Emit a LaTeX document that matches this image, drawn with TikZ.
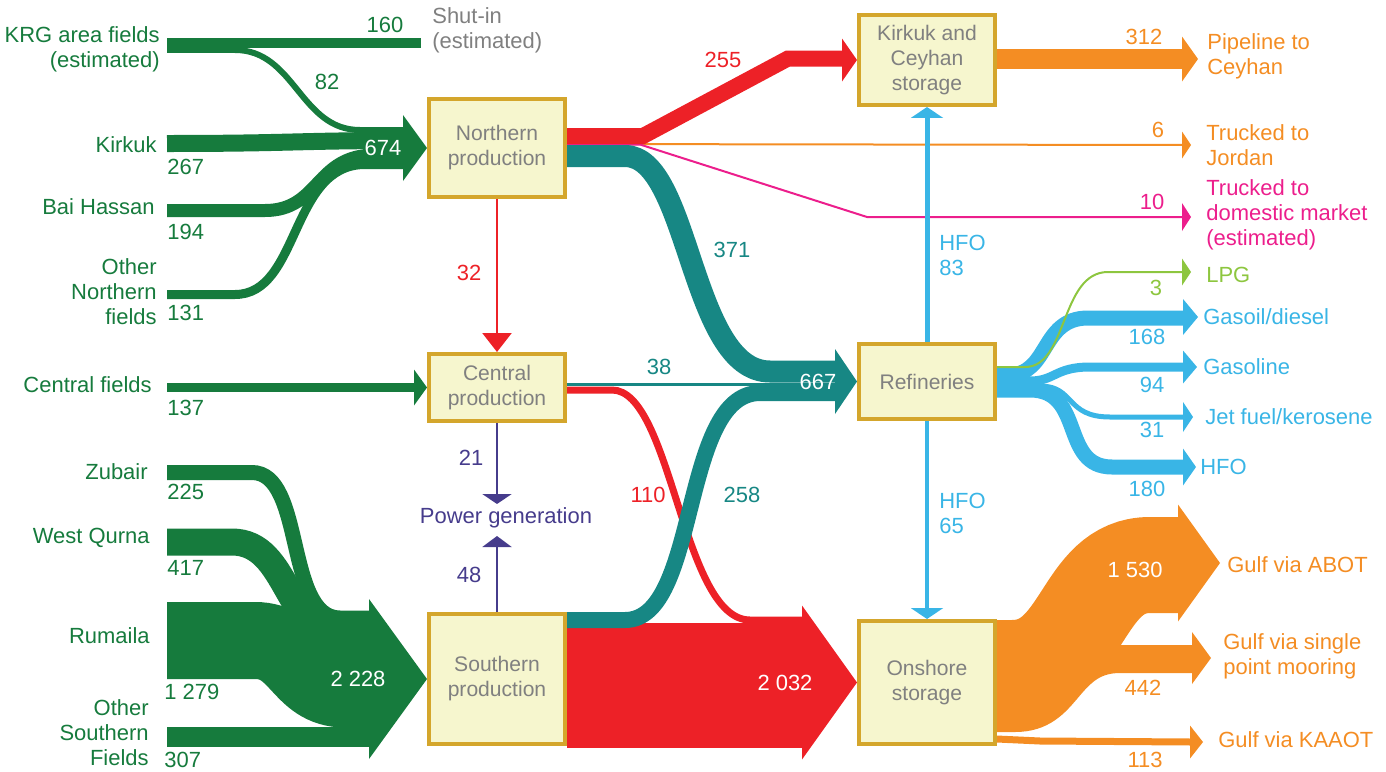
\documentclass[tikz,border=0pt]{standalone}
\usepackage{fontspec}
\setmainfont{Liberation Sans}
\usepackage{tikz}
\usetikzlibrary{arrows.meta,backgrounds}

\definecolor{oilgreen}{RGB}{22,123,61}
\definecolor{oilred}{RGB}{237,33,39}
\definecolor{oilteal}{RGB}{23,135,132}
\definecolor{oilorange}{RGB}{244,141,35}
\definecolor{oilblue}{RGB}{57,181,230}
\definecolor{oilpink}{RGB}{236,30,140}
\definecolor{oillime}{RGB}{141,198,63}
\definecolor{oilpurple}{RGB}{70,60,140}
\definecolor{boxfill}{RGB}{246,246,206}
\definecolor{boxline}{RGB}{212,166,44}
\definecolor{boxtext}{RGB}{128,128,128}

\tikzset{
  bandw/.style={line width=#1*0.02cm},
  lbl/.style={inner sep=0pt, font=\fontsize{12.5}{14.2}\selectfont},
  box/.style={draw=boxline, fill=boxfill, line width=2pt, minimum width=2.73cm,
    inner sep=0pt, align=center, text=boxtext, font=\fontsize{12}{14.2}\selectfont},
}
% filled arrow head pointing right: colour, tip, half height, length
\newcommand{\headR}[4]{\fill[#1] (#2) -- ++(-#4,-#3) -- ++(0,2*#3) -- cycle;}

\begin{document}
\begin{tikzpicture}[x=0.02cm, y=-0.02cm]
\useasboundingbox (0,0) rectangle (1386,771);

% boxes
\node[box, minimum height=1.97cm] (north) at (497,148) {Northern\\production};
\node[box, minimum height=1.35cm] (central) at (497,387.5) {Central\\production};
\node[box, minimum height=2.61cm] (south) at (497,679) {Southern\\production};
\node[box, minimum height=1.81cm] (ceyhan) at (927,60) {Kirkuk and\\Ceyhan\\storage};
\node[box, minimum height=1.51cm] (refin) at (927,381.5) {Refineries};
\node[box, minimum height=2.47cm] (onshore) at (927,682.5) {Onshore\\storage};
\node[lbl, text=oilpurple] (power) at (506,518) {Power generation};

% free ends of the bands
\coordinate (krgS) at (167,45.4);
\coordinate (shutE) at (421,43);
\coordinate (kirkukS) at (167,143.5);
\coordinate (baiS) at (167,210.5);
\coordinate (othernS) at (167,294.5);
\coordinate (centfS) at (167,387.5);
\coordinate (zubairS) at (167,472.5);
\coordinate (qurnaS) at (167,542);
\coordinate (rumailaS) at (167,640.5);
\coordinate (othersS) at (167,737);
\coordinate (pipeT) at (1198,59);
\coordinate (jordanT) at (1191,145);
\coordinate (domT) at (1191,217);
\coordinate (lpgT) at (1191,272);
\coordinate (gasoilT) at (1198,317);
\coordinate (gasolT) at (1197,367);
\coordinate (jetT) at (1193,417);
\coordinate (hfoT) at (1196,467);
\coordinate (abotT) at (1220,563);
\coordinate (spmT) at (1211,658);
\coordinate (kaaotT) at (1203,742);
\coordinate (pgT) at (497,504);
\coordinate (pgB) at (497,536);

\begin{scope}[on background layer]
% northern fields
\draw[oilgreen, bandw=15] (krgS) -- (245,45.4);
\draw[oilgreen, bandw=10] (245,43) -- (shutE); % shut-in
\draw[oilgreen, bandw=6] (235,50) .. controls (295,50) and (300,130) .. (360,130) -- (404,130); % 82
\draw[oilgreen, bandw=17] (kirkukS) .. controls (290,143.5) and (300,140.5) .. (404,140.5);
\draw[oilgreen, bandw=13] (baiS) -- (265,210.5) .. controls (320,210.5) and (315,155) .. (375,155) -- (404,155);
\draw[oilgreen, bandw=9] (othernS) -- (235,294.5) .. controls (300,294.5) and (290,164.5) .. (365,164.5) -- (404,164.5);
\fill[oilgreen] (385,127) rectangle (404,169);
\headR{oilgreen}{north.west}{33}{24}
% central fields
\draw[oilgreen, bandw=9] (centfS) -- (415,387.5);
\headR{oilgreen}{central.west}{18}{13}
% southern fields
\draw[oilgreen, bandw=15] (zubairS) -- (252,472.5) .. controls (305,472.5) and (285,618) .. (340,618) -- (370,618);
\draw[oilgreen, bandw=27] (qurnaS) -- (232,542) .. controls (290,542) and (285,637) .. (345,637) -- (370,637);
\draw[oilgreen, bandw=77] (rumailaS) -- (255,640.5) .. controls (300,640.5) and (300,689) .. (345,689) -- (370,689);
\draw[oilgreen, bandw=20] (othersS) -- (370,737);
\fill[oilgreen] (340,611) rectangle (370,747);
\headR{oilgreen}{south.west}{80}{58}

% northern production out
\draw[oilorange, bandw=2] (north.east |- 0,144) -- (1184,145);
\headR{oilorange}{jordanT}{13.5}{9}
\draw[oilpink, bandw=2] (north.east |- 0,144.5) -- (640,144.5) -- (867,217) -- (1184,217);
\headR{oilpink}{domT}{14}{9}
\draw[oilred, bandw=16, line join=miter] (north.east |- 0,136) -- (643,136) -- (788,58.5) -- (843,58.5); % 255
\headR{oilred}{ceyhan.west}{21.5}{15}
\draw[oilteal, bandw=22] (north.east |- 0,156) -- (625,156) .. controls (690,156) and (690,371.5) .. (770,371.5) -- (836,371.5); % 371
% central production out
\draw[oilteal, bandw=3] (central.east |- 0,384) -- (836,384); % 38
\draw[oilred, bandw=7] (central.east |- 0,390) -- (612,390) .. controls (672,390) and (682,620) .. (750,620) -- (803,620); % 110
% southern production out
\draw[oilred, bandw=125] (south.east |- 0,685) -- (803,685); % 2032
\draw[oilteal, bandw=16] (south.east |- 0,620) -- (625,620) .. controls (700,620) and (680,393) .. (760,393) -- (836,393); % 258
\headR{oilteal}{refin.west}{32.5}{22}
\headR{oilred}{onshore.west}{77}{55}

% storage and refineries out
\draw[oilorange, bandw=20] (ceyhan.east |- 0,59) -- (1184,59);
\headR{oilorange}{pipeT}{22.5}{16}
\draw[oilblue, bandw=15] (refin.east |- 0,375) -- (1008,375) .. controls (1050,375) and (1040,318) .. (1088,318) -- (1185,318);
\draw[oilblue, bandw=9] (refin.east |- 0,381) -- (1030,381) .. controls (1055,381) and (1055,367) .. (1090,367) -- (1185,367);
\draw[oilblue, bandw=5] (refin.east |- 0,386) -- (1040,386) .. controls (1075,386) and (1065,417) .. (1110,417) -- (1185,417);
\draw[oilblue, bandw=15] (refin.east |- 0,390) -- (1030,390) .. controls (1085,390) and (1060,467) .. (1112,467) -- (1185,467);
\draw[oillime, bandw=2] (refin.east |- 0,367) -- (1025,367) .. controls (1068,367) and (1060,272) .. (1108,272) -- (1184,272);
\headR{oillime}{lpgT}{13.5}{9}
\headR{oilblue}{gasoilT}{18}{15}
\headR{oilblue}{gasolT}{16.5}{14}
\headR{oilblue}{jetT}{15}{10}
\headR{oilblue}{hfoT}{18.5}{13}
\draw[oilorange, bandw=96] (onshore.east |- 0,668) -- (1012,668) .. controls (1085,668) and (1080,565) .. (1150,565) -- (1179,565);
\draw[oilorange, bandw=28] (onshore.east |- 0,718) -- (1015,718) .. controls (1070,718) and (1065,659) .. (1120,659) -- (1193,659);
\draw[oilorange, bandw=7] (onshore.east |- 0,739) -- (1040,741) -- (1191,742);
\headR{oilorange}{abotT}{58.5}{42}
\headR{oilorange}{spmT}{26}{19}
\headR{oilorange}{kaaotT}{16.5}{13}
\end{scope}

% vertical arrows
\draw[oilred, bandw=2.5, -{Triangle[width=0.58cm,length=0.38cm]}] (north.south) -- (central.north);
\draw[oilpurple, bandw=2.5, -{Triangle[width=0.58cm,length=0.2cm]}] (central.south) -- (pgT);
\draw[oilpurple, bandw=2.5, -{Triangle[width=0.58cm,length=0.22cm]}] (south.north) -- (pgB);
\draw[oilblue, bandw=5, -{Triangle[width=0.64cm,length=0.22cm]}] (refin.north) -- (ceyhan.south);
\draw[oilblue, bandw=4, -{Triangle[width=0.64cm,length=0.22cm]}] (refin.south) -- (onshore.north);

% field labels
\node[lbl, text=oilgreen, anchor=east, align=right] (krg) at (160,49.5) {KRG area fields\\(estimated)};
\node[lbl, text=oilgreen, anchor=east] (kirkuk) at (157,145) {Kirkuk};
\node[lbl, text=oilgreen, anchor=east] (bai) at (155,207) {Bai Hassan};
\node[lbl, text=oilgreen, anchor=east, align=right] (othern) at (157,292) {Other\\Northern\\fields};
\node[lbl, text=oilgreen, anchor=east] (centf) at (152,385) {Central fields};
\node[lbl, text=oilgreen, anchor=east] (zubair) at (148,472) {Zubair};
\node[lbl, text=oilgreen, anchor=east] (qurna) at (150,538) {West Qurna};
\node[lbl, text=oilgreen, anchor=east] (rumaila) at (150,636) {Rumaila};
\node[lbl, text=oilgreen, anchor=east, align=right] (others) at (149,733) {Other\\Southern\\Fields};
\node[lbl, text=boxtext, anchor=west, align=left] (shut) at (432,30) {Shut-in\\(estimated)};

% field numbers
\node[lbl, text=oilgreen] (v160) at (385,25) {160};
\node[lbl, text=oilgreen] (v82) at (327,82) {82};
\node[lbl, text=oilgreen, anchor=west] (v267) at (167,167) {267};
\node[lbl, text=oilgreen, anchor=west] (v194) at (167,232) {194};
\node[lbl, text=oilgreen, anchor=west] (v131) at (167,313) {131};
\node[lbl, text=oilgreen, anchor=west] (v137) at (167,408) {137};
\node[lbl, text=oilgreen, anchor=west] (v225) at (167,492) {225};
\node[lbl, text=oilgreen, anchor=west] (v417) at (167,568) {417};
\node[lbl, text=oilgreen, anchor=west] (v1279) at (164,692) {1 279};
\node[lbl, text=oilgreen, anchor=west] (v307) at (164,760) {307};
\node[lbl, text=white] (v674) at (383,148) {674};
\node[lbl, text=white] (v2228) at (358,679) {2 228};

% middle numbers
\node[lbl, text=oilred] (v32) at (469,273) {32};
\node[lbl, text=oilpurple] (v21) at (471,458) {21};
\node[lbl, text=oilpurple] (v48) at (469,575) {48};
\node[lbl, text=oilred] (v255) at (723,60) {255};
\node[lbl, text=oilteal] (v371) at (732,250) {371};
\node[lbl, text=oilteal] (v38) at (659,367) {38};
\node[lbl, text=oilred] (v110) at (648,495) {110};
\node[lbl, text=oilteal] (v258) at (742,495) {258};
\node[lbl, text=white] (v667) at (818,382) {667};
\node[lbl, text=white] (v2032) at (785,683) {2 032};
\node[lbl, text=oilblue, anchor=west, align=left] (hfo83) at (939,255) {HFO\\83};
\node[lbl, text=oilblue, anchor=west, align=left] (hfo65) at (939,513) {HFO\\65};

% outputs
\node[lbl, text=oilorange] (v312) at (1144,37) {312};
\node[lbl, text=oilorange, anchor=west, align=left] (pipe) at (1207,56) {Pipeline to\\Ceyhan};
\node[lbl, text=oilorange] (v6) at (1158,130) {6};
\node[lbl, text=oilorange, anchor=west, align=left] (jordan) at (1206,145) {Trucked to\\Jordan};
\node[lbl, text=oilpink] (v10) at (1152,202) {10};
\node[lbl, text=oilpink, anchor=west, align=left] (dom) at (1206,215) {Trucked to\\domestic market\\(estimated)};
\node[lbl, text=oillime] (v3) at (1156,288) {3};
\node[lbl, text=oillime, anchor=west] (lpg) at (1206,275) {LPG};
\node[lbl, text=oilblue] (v168) at (1147,337) {168};
\node[lbl, text=oilblue, anchor=west] (gasoil) at (1203,317) {Gasoil/diesel};
\node[lbl, text=oilblue] (v94) at (1152,385) {94};
\node[lbl, text=oilblue, anchor=west] (gasol) at (1203,367) {Gasoline};
\node[lbl, text=oilblue] (v31) at (1152,430) {31};
\node[lbl, text=oilblue, anchor=west] (jet) at (1205,417) {Jet fuel/kerosene};
\node[lbl, text=oilblue] (v180) at (1147,489) {180};
\node[lbl, text=oilblue, anchor=west] (hfo) at (1200,467) {HFO};
\node[lbl, text=white] (v1530) at (1135,570) {1 530};
\node[lbl, text=oilorange, anchor=west] (abot) at (1227,565) {Gulf via ABOT};
\node[lbl, text=oilorange] (v442) at (1143,688) {442};
\node[lbl, text=oilorange, anchor=west, align=left] (spm) at (1223,656) {Gulf via single\\point mooring};
\node[lbl, text=oilorange] (v113) at (1145,760) {113};
\node[lbl, text=oilorange, anchor=west] (kaaot) at (1218,740) {Gulf via KAAOT};
\end{tikzpicture}
\end{document}
